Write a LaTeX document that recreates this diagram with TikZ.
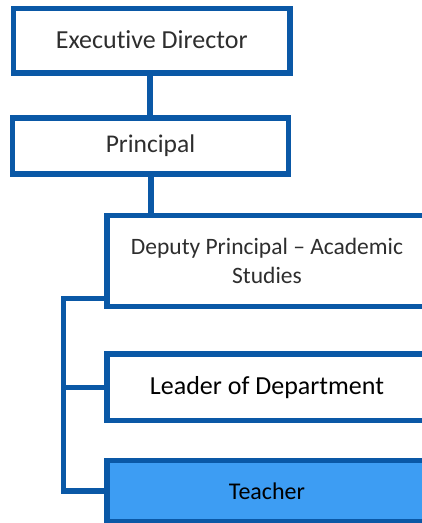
\documentclass[tikz,border=0pt]{standalone}
\usepackage{fontspec}
\setmainfont{Carlito}[Ligatures=NoCommon]
\definecolor{orgblue}{HTML}{0A58A6}
\definecolor{teacherblue}{HTML}{3D9DF3}

\begin{document}
\begin{tikzpicture}[x=1pt,y=-1pt,
        box/.style={draw=orgblue,line width=5.5pt,fill=white,align=center,inner sep=0pt},
        light/.style={text=black!82}]
        \useasboundingbox (0,0) rectangle (422,523);
        \clip (0,0) rectangle (422,523);
        \node[box,light,minimum width=276.5pt,minimum height=64.5pt,font=\fontsize{26}{30}\selectfont]
        (exec) at (151.75,40.75) {\raisebox{2pt}{Executive Director}};
        \node[box,light,minimum width=276pt,minimum height=56pt,font=\fontsize{25.5}{30}\selectfont]
        (principal) at (150.5,146) {Principal};
        \node[box,light,minimum width=320pt,minimum height=91pt,font=\fontsize{23.5}{29}\selectfont]
        (deputy) at (267,261) {Deputy Principal -- Academic\\Studies};
        \node[box,minimum width=320pt,minimum height=66.5pt,font=\fontsize{26}{30}\selectfont]
        (leader) at (267,387.25) {Leader of Department};
        \node[box,fill=teacherblue,minimum width=320pt,minimum height=61pt,font=\fontsize{24}{28}\selectfont]
        (teacher) at (267,491) {Teacher};
        \coordinate (bus) at (63.5,298.5);
        \draw[orgblue,line width=5.5pt] (exec.south -| 150,0) -- (principal.north -| 150,0);
        \draw[orgblue,line width=5.5pt] (principal.south -| 151,0) -- (deputy.north -| 151,0);
        \draw[orgblue,line width=5.5pt] (deputy.west |- bus) -- (bus) |- (teacher.west);
        \draw[orgblue,line width=5.5pt] (bus |- leader.west) -- (leader.west);
      \end{tikzpicture}
\end{document}
